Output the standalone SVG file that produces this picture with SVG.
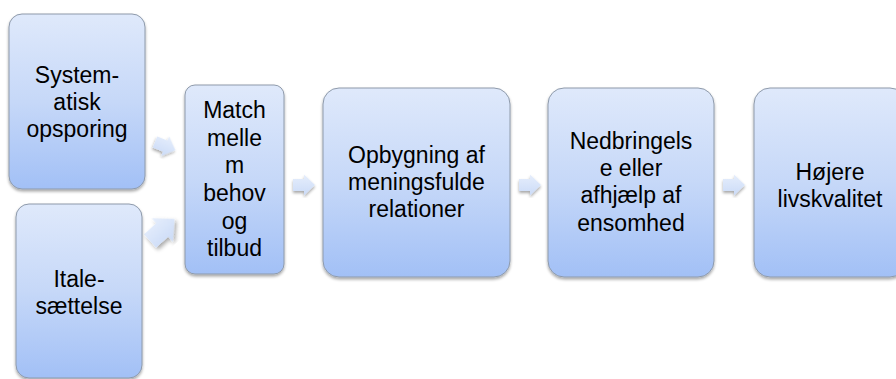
<svg xmlns="http://www.w3.org/2000/svg" width="896" height="379" viewBox="0 0 896 379">
<defs>
<linearGradient id="g" x1="0" y1="0" x2="0" y2="1">
<stop offset="0" stop-color="#dfe9fb"/>
<stop offset="0.5" stop-color="#c6d8f8"/>
<stop offset="1" stop-color="#a2c0f6"/>
</linearGradient>
<linearGradient id="ga" x1="0" y1="0" x2="0" y2="1">
<stop offset="0" stop-color="#e6eefc"/>
<stop offset="1" stop-color="#cbdbf7"/>
</linearGradient>
<filter id="sh" x="-10%" y="-10%" width="120%" height="120%">
<feGaussianBlur in="SourceAlpha" stdDeviation="1.5"/>
<feOffset dx="0" dy="2" result="b"/>
<feComponentTransfer><feFuncA type="linear" slope="0.35"/></feComponentTransfer>
<feMerge><feMergeNode/><feMergeNode in="SourceGraphic"/></feMerge>
</filter>
<path id="arr" d="M0,-6 H11 V-10.5 L22,0 L11,10.5 V6 H0 Z"/>
</defs>
<style>
.box{fill:url(#g);stroke:#8e9aab;stroke-width:1;filter:url(#sh)}
.t{font-family:"Liberation Sans",Arial,sans-serif;font-size:23px;fill:#000;text-anchor:middle}
.a{fill:url(#ga);filter:url(#sh)}
</style>
<g id="connectors">
<use href="#arr" class="a" transform="translate(155,142) rotate(22)"/>
<use href="#arr" class="a" transform="translate(150,241) rotate(-42) scale(1.5)"/>
<use href="#arr" class="a" transform="translate(293,185)"/>
<use href="#arr" class="a" transform="translate(519,185)"/>
<use href="#arr" class="a" transform="translate(723,185)"/>
</g>
<g id="n1">
<rect class="box" x="9" y="14" width="136" height="175" rx="13"/>
<text class="t" x="77" y="83">System-</text>
<text class="t" x="77" y="110">atisk</text>
<text class="t" x="77" y="137">opsporing</text>
</g>
<g id="n2">
<rect class="box" x="16" y="204" width="126" height="174" rx="13"/>
<text class="t" x="79" y="287">Itale-</text>
<text class="t" x="79" y="314">sættelse</text>
</g>
<g id="n3">
<rect class="box" x="185" y="85" width="99" height="189" rx="10"/>
<text class="t" x="234.5" y="118">Match</text>
<text class="t" x="234.5" y="146">melle</text>
<text class="t" x="234.5" y="173">m</text>
<text class="t" x="234.5" y="201">behov</text>
<text class="t" x="234.5" y="229">og</text>
<text class="t" x="234.5" y="256">tilbud</text>
</g>
<g id="n4">
<rect class="box" x="323" y="88" width="187" height="189" rx="16"/>
<text class="t" x="416.5" y="163">Opbygning af</text>
<text class="t" x="416.5" y="190">meningsfulde</text>
<text class="t" x="416.5" y="217">relationer</text>
</g>
<g id="n5">
<rect class="box" x="548" y="88" width="166" height="189" rx="16"/>
<text class="t" x="631" y="149">Nedbringels</text>
<text class="t" x="631" y="176">e eller</text>
<text class="t" x="631" y="203">afhjælp af</text>
<text class="t" x="631" y="231">ensomhed</text>
</g>
<g id="n6">
<rect class="box" x="754" y="88" width="152" height="189" rx="16"/>
<text class="t" x="830" y="180">Højere</text>
<text class="t" x="830" y="207">livskvalitet</text>
</g>
</svg>
